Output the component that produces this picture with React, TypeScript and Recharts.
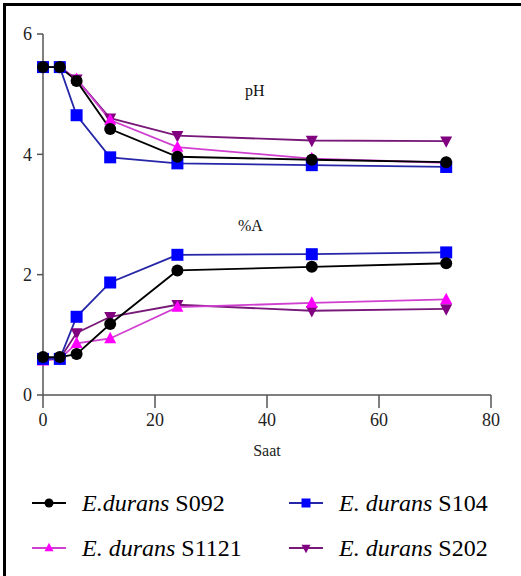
import React from 'react';
import { LineChart, Line, XAxis, YAxis } from 'recharts';

const times = [0, 3, 6, 12, 24, 48, 72];
const phS092 = [5.45, 5.45, 5.22, 4.42, 3.96, 3.91, 3.87];
const phS104 = [5.45, 5.45, 4.65, 3.95, 3.85, 3.82, 3.79];
const phS1121 = [5.45, 5.45, 5.25, 4.57, 4.12, 3.93, 3.86];
const phS202 = [5.45, 5.45, 5.25, 4.6, 4.31, 4.23, 4.22];
const aS092 = [0.63, 0.63, 0.68, 1.18, 2.07, 2.13, 2.19];
const aS104 = [0.6, 0.6, 1.3, 1.87, 2.33, 2.34, 2.37];
const aS1121 = [0.57, 0.6, 0.86, 0.94, 1.46, 1.53, 1.59];
const aS202 = [0.6, 0.6, 1.03, 1.3, 1.5, 1.4, 1.43];

const xTicks = [0, 20, 40, 60, 80];
const yTicks = [0, 2, 4, 6];
const xLabel = 'Saat';
const phLabel = 'pH';
const acidLabel = '%A';

const strains = [
  { key: 'S202', italic: 'E. durans', name: ' S202', shape: 'down', line: '#781878', fill: '#800080' },
  { key: 'S1121', italic: 'E. durans', name: ' S1121', shape: 'up', line: '#d040d0', fill: '#ff00ff' },
  { key: 'S104', italic: 'E. durans', name: ' S104', shape: 'square', line: '#2626a8', fill: '#0000ff' },
  { key: 'S092', italic: 'E.durans', name: ' S092', shape: 'circle', line: '#000000', fill: '#000000' },
];

const data = times.map((t, i) => ({
  t,
  phS092: phS092[i], phS104: phS104[i], phS1121: phS1121[i], phS202: phS202[i],
  aS092: aS092[i], aS104: aS104[i], aS1121: aS1121[i], aS202: aS202[i],
}));

function Marker({ shape, cx, cy, fill, s }: { shape: string; cx: number; cy: number; fill: string; s: number }) {
  if (shape === 'circle') return <circle cx={cx} cy={cy} r={s / 2} fill={fill} />;
  if (shape === 'square') return <rect x={cx - s / 2} y={cy - s / 2} width={s} height={s} fill={fill} />;
  if (shape === 'up') {
    const h = s * 0.95;
    return <polygon points={`${cx},${cy - h / 2 - 1} ${cx - s / 2},${cy + h / 2 - 1} ${cx + s / 2},${cy + h / 2 - 1}`} fill={fill} />;
  }
  const h = s * 0.95;
  return <polygon points={`${cx},${cy + h / 2 + 1} ${cx - s / 2},${cy - h / 2 + 1} ${cx + s / 2},${cy - h / 2 + 1}`} fill={fill} />;
}

const makeDot = (shape: string, fill: string) => (props: any) => {
  const { cx, cy, index } = props;
  if (cx == null || cy == null) return <g key={`d-${index}`} />;
  return (
    <g key={`d-${shape}-${index}`}>
      <Marker shape={shape} cx={cx} cy={cy} fill={fill} s={12} />
    </g>
  );
};

const font = 'Liberation Serif';

const YTick = (props: any) => {
  const { x, y, payload } = props;
  return (
    <text x={x} y={y} textAnchor="end" dy="0.35em" fill="#222" fontSize={18} fontFamily={font}>
      {payload.value}
    </text>
  );
};

const XTick = (props: any) => {
  const { x, y, payload } = props;
  return (
    <text x={x} y={y} textAnchor="middle" dy="0.71em" fill="#222" fontSize={18} fontFamily={font}>
      {payload.value}
    </text>
  );
};

function LegendItem({ st, left, top }: { st: any; left: number; top: number }) {
  return (
    <div style={{ position: 'absolute', left, top, height: 30, display: 'flex', alignItems: 'center' }}>
      <svg width={34} height={20} style={{ display: 'block' }}>
        <line x1={0} y1={10} x2={34} y2={10} stroke={st.line} strokeWidth={2} />
        <Marker shape={st.shape} cx={17} cy={10} fill={st.fill} s={9} />
      </svg>
      <span style={{ marginLeft: 16, fontFamily: font, fontSize: 24, color: '#000', whiteSpace: 'nowrap', lineHeight: '30px' }}>
        <i>{st.italic}</i>{st.name}
      </span>
    </div>
  );
}

export default function App() {
  const byKey: Record<string, any> = {};
  strains.forEach((s) => (byKey[s.key] = s));
  return (
    <div style={{ position: 'absolute', left: 0, top: 0, width: 521, height: 576, background: '#fff', overflow: 'hidden', fontFamily: font }}>
      <div style={{ position: 'absolute', left: 3, top: 3, width: 600, height: 600, borderLeft: '3px solid #000', borderTop: '3px solid #000' }} />
      <div style={{ position: 'absolute', left: 0, top: 0 }}>
        <LineChart width={521} height={460} data={data} margin={{ top: 34, right: 30, left: 0, bottom: 0 }}>
          <XAxis
            dataKey="t"
            type="number"
            domain={[0, 80]}
            ticks={xTicks}
            height={65}
            tickSize={13}
            tickMargin={5}
            stroke="#555"
            strokeWidth={1.5}
            tick={<XTick />}
            label={{ value: xLabel, position: 'insideBottom', offset: 4, fill: '#222', fontSize: 16, fontFamily: font }}
          />
          <YAxis
            type="number"
            domain={[0, 6]}
            ticks={yTicks}
            width={43}
            tickSize={6}
            tickMargin={5}
            stroke="#555"
            strokeWidth={1.5}
            tick={<YTick />}
          />
          {strains.map((s) => (
            <Line
              key={`a${s.key}`}
              dataKey={`a${s.key}`}
              stroke={s.line}
              strokeWidth={1.8}
              dot={makeDot(s.shape, s.fill)}
              activeDot={false}
              isAnimationActive={false}
            />
          ))}
          {strains.map((s) => (
            <Line
              key={`ph${s.key}`}
              dataKey={`ph${s.key}`}
              stroke={s.line}
              strokeWidth={1.8}
              dot={makeDot(s.shape, s.fill)}
              activeDot={false}
              isAnimationActive={false}
            />
          ))}
        </LineChart>
      </div>
      <div style={{ position: 'absolute', left: 245, top: 83, fontFamily: font, fontSize: 16, lineHeight: '16px', color: '#111' }}>{phLabel}</div>
      <div style={{ position: 'absolute', left: 238, top: 218, fontFamily: font, fontSize: 16, lineHeight: '16px', color: '#111' }}>{acidLabel}</div>
      <LegendItem st={byKey['S092']} left={32} top={488} />
      <LegendItem st={byKey['S104']} left={289} top={488} />
      <LegendItem st={byKey['S1121']} left={32} top={533} />
      <LegendItem st={byKey['S202']} left={289} top={533} />
    </div>
  );
}
